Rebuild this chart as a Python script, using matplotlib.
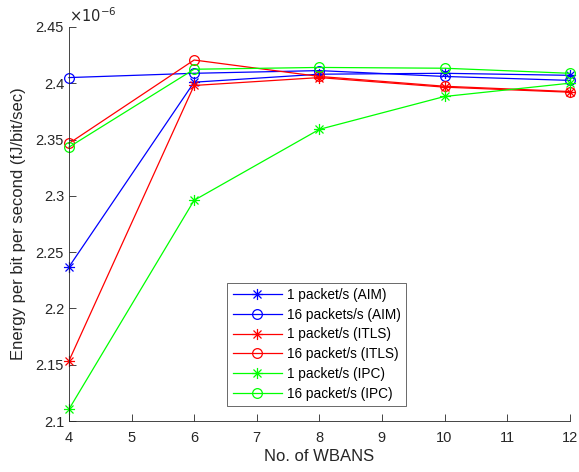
import matplotlib
matplotlib.use("Agg")
import matplotlib.pyplot as plt
from matplotlib.path import Path
from matplotlib.ticker import FuncFormatter

plt.rcParams['font.family'] = ['Liberation Sans', 'DejaVu Sans']

wbans = [4, 6, 8, 10, 12]

# energy per bit per second, in units of 1e-6
aim_1 = [2.2368, 2.4009, 2.4080, 2.4088, 2.4070]
aim_16 = [2.4050, 2.4088, 2.4112, 2.4060, 2.4025]
itls_1 = [2.1533, 2.3980, 2.4050, 2.3965, 2.3920]
itls_16 = [2.3465, 2.4206, 2.4060, 2.3973, 2.3926]
ipc_1 = [2.1104, 2.2960, 2.3590, 2.3882, 2.4000]
ipc_16 = [2.3432, 2.4124, 2.4140, 2.4133, 2.4088]

labels = ["1 packet/s (AIM)", "16 packets/s (AIM)", "1 packet/s (ITLS)",
          "16 packet/s (ITLS)", "1 packet/s (IPC)", "16 packet/s (IPC)"]
series = [aim_1, aim_16, itls_1, itls_16, ipc_1, ipc_16]
colors = ["#0000ff", "#0000ff", "#ff0000", "#ff0000", "#00ff00", "#00ff00"]
markers = ["*", "o", "*", "o", "*", "o"]

# asterisk made of a plus and a cross
d = 0.72
asterisk = Path(
    [(-1, 0), (1, 0), (0, -1), (0, 1), (-d, -d), (d, d), (-d, d), (d, -d)],
    [Path.MOVETO, Path.LINETO] * 4)

fig = plt.figure(figsize=(5.79, 4.72), dpi=100)
ax = fig.add_axes([0.119, 0.108, 0.865, 0.835])

for vals, lab, c, m in zip(series, labels, colors, markers):
    if m == "o":
        ax.plot(wbans, vals, color=c, marker="o", markersize=7, markerfacecolor="none",
                markeredgewidth=0.9, linewidth=0.9, label=lab, clip_on=False)
    else:
        ax.plot(wbans, vals, color=c, marker=asterisk, markersize=8,
                markeredgewidth=0.9, linewidth=0.9, label=lab, clip_on=False)

ax.set_xlim(4, 12)
ax.set_ylim(2.1, 2.45)
ax.set_xticks(range(4, 13))
ax.set_yticks([2.1, 2.15, 2.2, 2.25, 2.3, 2.35, 2.4, 2.45])
ax.yaxis.set_major_formatter(FuncFormatter(lambda v, p: "%g" % round(v, 3)))

for s in ["top", "right"]:
    ax.spines[s].set_visible(False)
for s in ["left", "bottom"]:
    ax.spines[s].set_color("#262626")
    ax.spines[s].set_linewidth(0.6)
ax.tick_params(direction="in", length=5, width=0.6, colors="#262626", labelsize=10.5)
ax.tick_params(axis="x", pad=7)

ax.text(0.0, 1.005, r"$\times 10^{-6}$", transform=ax.transAxes, fontsize=10.5,
        color="#262626", ha="left", va="bottom")

ax.set_xlabel("No. of WBANS", fontsize=12, color="#262626", labelpad=3)
ax.set_ylabel("Energy per bit per second (fJ/bit/sec)", fontsize=12, color="#262626",
              labelpad=7)

leg = ax.legend(loc="lower left", bbox_to_anchor=(0.316, 0.038), fontsize=9.8,
                frameon=True, fancybox=False, edgecolor="#262626", borderpad=0.4,
                handlelength=3.6, labelspacing=0.42, handletextpad=0.4,
                borderaxespad=0)
leg.get_frame().set_linewidth(0.6)

fig.savefig("out.png", dpi=100)
